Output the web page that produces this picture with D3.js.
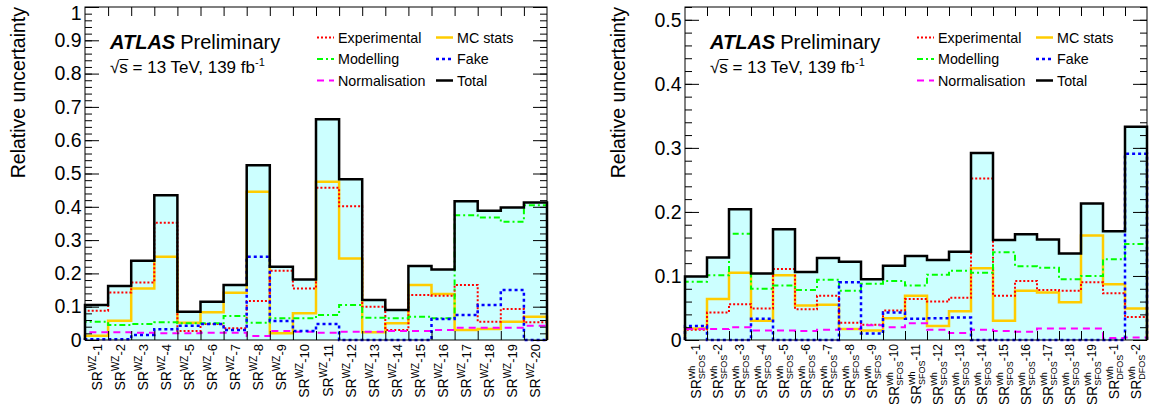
<!DOCTYPE html>
<html>
<head>
<meta charset="utf-8">
<script src="https://cdn.jsdelivr.net/npm/d3@7"></script>
<style>
  html, body { margin: 0; padding: 0; background: #fff; }
  svg { display: block; font-family: "Liberation Sans", Arial, Helvetica, sans-serif; }
</style>
</head>
<body>
<svg id="chart" width="1153" height="404"></svg>
<script>
// ---- WZ signal regions (left panel) ----
const wzBins = ["1","2","3","4","5","6","7","8","9","10","11","12","13","14","15","16","17","18","19","20"];
const wzExperimental  = [0.088,0.143,0.173,0.352,0.027,0.048,0.035,0.117,0.208,0.155,0.457,0.402,0.100,0.030,0.135,0.133,0.165,0.055,0.093,0.053];
const wzModelling     = [0.055,0.045,0.048,0.053,0.050,0.050,0.072,0.052,0.065,0.065,0.075,0.105,0.067,0.065,0.070,0.065,0.375,0.368,0.355,0.405];
const wzNormalisation = [0.023,0.023,0.022,0.020,0.020,0.022,0.022,0.012,0.027,0.025,0.022,0.025,0.025,0.027,0.027,0.030,0.037,0.037,0.037,0.043];
const wzMCStats       = [0.013,0.058,0.155,0.250,0.052,0.083,0.142,0.445,0.020,0.080,0.475,0.245,0.023,0.050,0.165,0.138,0.030,0.033,0.055,0.070];
const wzFake          = [0.002,0.002,0.015,0.032,0.043,0.048,0.030,0.250,0.057,0.027,0.048,0.000,0.000,0.000,0.000,0.063,0.075,0.105,0.150,0.000];
const wzTotal         = [0.105,0.162,0.238,0.435,0.085,0.115,0.165,0.525,0.220,0.182,0.663,0.483,0.120,0.090,0.222,0.212,0.417,0.388,0.398,0.413];
const wzYTicks = ["0","0.1","0.2","0.3","0.4","0.5","0.6","0.7","0.8","0.9","1"];

// ---- Wh signal regions (right panel) ----
const whFlavour = ["SFOS","SFOS","SFOS","SFOS","SFOS","SFOS","SFOS","SFOS","SFOS","SFOS","SFOS","SFOS","SFOS","SFOS","SFOS","SFOS","SFOS","SFOS","SFOS","DFOS","DFOS"];
const whIndex   = ["1","2","3","4","5","6","7","8","9","10","11","12","13","14","15","16","17","18","19","1","2"];
const whExperimental  = [0.016,0.043,0.056,0.049,0.111,0.048,0.069,0.027,0.024,0.046,0.064,0.060,0.066,0.252,0.069,0.092,0.078,0.077,0.090,0.073,0.036];
const whModelling     = [0.091,0.101,0.166,0.080,0.085,0.078,0.094,0.077,0.088,0.092,0.085,0.102,0.108,0.105,0.137,0.115,0.113,0.095,0.100,0.126,0.150];
const whNormalisation = [0.017,0.017,0.020,0.015,0.015,0.014,0.016,0.017,0.023,0.020,0.026,0.016,0.011,0.016,0.014,0.013,0.018,0.018,0.018,0.003,0.004];
const whMCStats       = [0.018,0.064,0.105,0.030,0.101,0.054,0.055,0.017,0.015,0.034,0.069,0.022,0.045,0.112,0.030,0.077,0.074,0.059,0.163,0.087,0.049];
const whFake          = [0.022,0.000,0.000,0.033,0.000,0.000,0.000,0.090,0.010,0.043,0.033,0.034,0.035,0.000,0.000,0.000,0.000,0.000,0.000,0.000,0.291];
const whTotal         = [0.099,0.129,0.204,0.104,0.173,0.106,0.128,0.122,0.095,0.116,0.131,0.125,0.138,0.292,0.156,0.165,0.157,0.135,0.213,0.170,0.333];
const whYTicks = ["0","0.1","0.2","0.3","0.4","0.5"];

// Line styles per uncertainty source
const styles = {
  exp:  { label: "Experimental",  color: "#ff0000", width: 2,   dash: "2,2" },
  mod:  { label: "Modelling",     color: "#00ff00", width: 2,   dash: "6,3,2,3" },
  norm: { label: "Normalisation", color: "#ff00ff", width: 2,   dash: "7,5" },
  mc:   { label: "MC stats",      color: "#ffcc00", width: 2.5, dash: null },
  fake: { label: "Fake",          color: "#0000ff", width: 2.5, dash: "3,3" },
  tot:  { label: "Total",         color: "#000000", width: 2.5, dash: null }
};
const drawOrder = ["mc", "exp", "mod", "norm", "fake", "tot"];
const legendRows = [["exp", "mc"], ["mod", "fake"], ["norm", "tot"]];

const svg = d3.select("#chart");
const FONT_TICK = 19.5;

function drawPanel(opt) {
  const g = svg.append("g");
  const n = opt.series.tot.length;
  const x = d3.scaleLinear().domain([0, n]).range([opt.left, opt.right]);
  const y = d3.scaleLinear().domain([0, opt.ymax]).range([opt.bottom, opt.top]);

  const stepPoints = vals => {
    const pts = [[0, 0]];
    vals.forEach((v, i) => { pts.push([i, v]); });
    pts.push([n, vals[n - 1]]);
    pts.push([n, 0]);
    return pts;
  };

  // shaded envelope under the total
  const area = d3.area()
    .x(d => x(d[0])).y0(y(0)).y1(d => y(d[1]))
    .curve(d3.curveStepAfter);
  const totPts = opt.series.tot.map((v, i) => [i, v]).concat([[n, opt.series.tot[n - 1]]]);
  g.append("path").attr("d", area(totPts)).attr("fill", "#ccffff");

  const line = d3.line().x(d => x(d[0])).y(d => y(d[1])).curve(d3.curveStepAfter);
  drawOrder.forEach(k => {
    const s = styles[k];
    g.append("path")
      .attr("d", line(stepPoints(opt.series[k])))
      .attr("fill", "none")
      .attr("stroke", s.color)
      .attr("stroke-width", s.width)
      .attr("stroke-dasharray", s.dash)
      .attr("stroke-linejoin", "miter");
  });

  // frame
  g.append("rect")
    .attr("x", opt.left).attr("y", opt.top)
    .attr("width", opt.right - opt.left).attr("height", opt.bottom - opt.top)
    .attr("fill", "none").attr("stroke", "#000").attr("stroke-width", 1);

  // y axis: major ticks with labels, minor ticks
  const major = opt.yTicks.map(t => +t);
  const minor = d3.range(0, Math.round(opt.ymax * 50) + 1).map(i => i / 50);
  const fmt = d => opt.yTicks[major.indexOf(d)];
  const yl = g.append("g").attr("transform", `translate(${opt.left},0)`)
    .call(d3.axisLeft(y).tickValues(major).tickSize(-14).tickPadding(3.5).tickFormat(fmt));
  g.append("g").attr("transform", `translate(${opt.left},0)`)
    .call(d3.axisLeft(y).tickValues(minor).tickSize(-7).tickFormat(""));
  g.append("g").attr("transform", `translate(${opt.right},0)`)
    .call(d3.axisRight(y).tickValues(major).tickSize(-14).tickFormat(""));
  g.append("g").attr("transform", `translate(${opt.right},0)`)
    .call(d3.axisRight(y).tickValues(minor).tickSize(-7).tickFormat(""));
  // bin-edge ticks on top and bottom
  const edges = d3.range(1, n);
  g.append("g").attr("transform", `translate(0,${opt.top})`)
    .call(d3.axisTop(x).tickValues(edges).tickSize(-9).tickFormat(""));
  g.append("g").attr("transform", `translate(0,${opt.bottom})`)
    .call(d3.axisBottom(x).tickValues(edges).tickSize(-9).tickFormat(""));
  g.selectAll(".domain").remove();
  g.selectAll(".tick line").attr("stroke", "#000").attr("stroke-width", 1);
  yl.selectAll(".tick text")
    .attr("font-size", FONT_TICK).attr("fill", "#000")
    .attr("font-family", "Liberation Sans, Arial, sans-serif")
    // a label sitting on the frame's top edge is pushed down so it stays on the page
    .attr("dy", d => (y(d) - opt.top < 4 ? "0.62em" : "0.32em"));

  // y title
  g.append("text")
    .attr("transform", `translate(${opt.left - 60},${opt.top}) rotate(-90)`)
    .attr("text-anchor", "end")
    .attr("font-size", FONT_TICK)
    .text("Relative uncertainty");

  // bin labels
  for (let i = 0; i < n; i++) {
    const cx = x(i + 0.5);
    const t = g.append("text")
      .attr("transform", `translate(${cx + 5},${opt.bottom + 4}) rotate(-90)`)
      .attr("text-anchor", "end")
      .attr("font-size", 14);
    opt.labeler(t, i);
  }

  // ATLAS label
  const ax = opt.left + 25;
  const at = g.append("text").attr("x", ax).attr("y", 49).attr("font-size", 20);
  at.append("tspan").attr("font-weight", "bold").attr("font-style", "italic").text("ATLAS");
  at.append("tspan").attr("dx", 5).text("Preliminary");

  const en = g.append("text").attr("x", ax).attr("y", 73).attr("font-size", 17);
  en.append("tspan").text("\u221As = 13 TeV, 139 fb");
  en.append("tspan").attr("font-size", 11).attr("dy", -7).text("-1");
  const node = en.node();
  const sStart = node.getStartPositionOfChar(1);
  const sEnd = node.getEndPositionOfChar(1);
  g.append("line")
    .attr("x1", sStart.x).attr("x2", sEnd.x + 0.5)
    .attr("y1", 73 - 13.5).attr("y2", 73 - 13.5)
    .attr("stroke", "#000").attr("stroke-width", 1);

  // legend
  const colX = [opt.left + 232, opt.left + 351];
  const rowY = [42.5, 64, 85.5];
  legendRows.forEach((row, r) => {
    row.forEach((k, c) => {
      const s = styles[k];
      g.append("line")
        .attr("x1", colX[c]).attr("x2", colX[c] + 17)
        .attr("y1", rowY[r] - 5).attr("y2", rowY[r] - 5)
        .attr("stroke", s.color).attr("stroke-width", s.width)
        .attr("stroke-dasharray", s.dash);
      g.append("text")
        .attr("x", colX[c] + 21).attr("y", rowY[r])
        .attr("font-size", 14.3)
        .text(s.label);
    });
  });
}

drawPanel({
  left: 85, right: 547, top: 7, bottom: 340, ymax: 1.0,
  yTicks: wzYTicks,
  series: { exp: wzExperimental, mod: wzModelling, norm: wzNormalisation, mc: wzMCStats, fake: wzFake, tot: wzTotal },
  labeler: (t, i) => {
    t.append("tspan").text("SR");
    t.append("tspan").attr("font-size", 10).attr("dy", -6).text("WZ");
    t.append("tspan").attr("font-size", 13).attr("dy", 6).text("-" + wzBins[i]);
  }
});

drawPanel({
  left: 685, right: 1147, top: 7, bottom: 340, ymax: 0.52,
  yTicks: whYTicks,
  series: { exp: whExperimental, mod: whModelling, norm: whNormalisation, mc: whMCStats, fake: whFake, tot: whTotal },
  labeler: (t, i) => {
    t.append("tspan").text("SR");
    t.append("tspan").attr("font-size", 9).attr("dy", -6).text("Wh");
    const supW = 9 * 1.5;
    t.append("tspan").attr("font-size", 9).attr("dx", -supW).attr("dy", 10).text(whFlavour[i]);
    t.append("tspan").attr("font-size", 12).attr("dy", -5).text("-" + whIndex[i]);
  }
});
</script>
</body>
</html>
